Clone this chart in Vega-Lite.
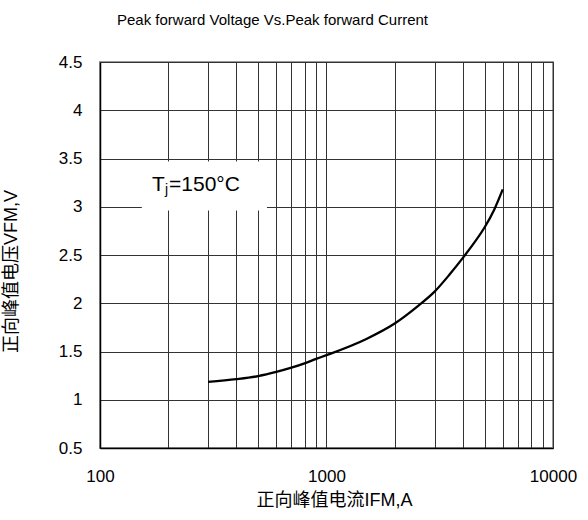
{
  "$schema": "https://vega.github.io/schema/vega-lite/v6.json",
  "width": 453,
  "height": 386,
  "autosize": {"type": "none"},
  "padding": {"left": 100, "top": 62, "right": 35, "bottom": 72},
  "background": "white",
  "title": {
    "text": "Peak forward Voltage Vs.Peak forward Current",
    "font": "Liberation Sans Narrow, Liberation Sans",
    "fontSize": 15,
    "fontWeight": "normal",
    "color": "black",
    "anchor": "start",
    "frame": "group",
    "dx": 17,
    "offset": 13,
    "baseline": "alphabetic"
  },
  "config": {
    "view": {"stroke": "#999999", "strokeWidth": 2},
    "axis": {
      "grid": true,
      "gridColor": "#333333",
      "gridWidth": 1,
      "ticks": false,
      "tickSize": 0,
      "domainColor": "black",
      "domainWidth": 1.5,
      "labelFont": "Liberation Sans",
      "labelFontSize": 17,
      "labelColor": "black",
      "labelOverlap": false,
      "labelFlush": false,
      "labelBound": false,
      "titleFont": "Liberation Sans, Noto Sans CJK SC",
      "titleFontSize": 18,
      "titleFontWeight": "normal",
      "titleColor": "black"
    }
  },
  "datasets": {
    "curve": [
      {"I": 300, "V": 1.185},
      {"I": 400, "V": 1.213},
      {"I": 500, "V": 1.245},
      {"I": 600, "V": 1.288},
      {"I": 700, "V": 1.332},
      {"I": 800, "V": 1.377},
      {"I": 900, "V": 1.423},
      {"I": 1000, "V": 1.462},
      {"I": 1500, "V": 1.63},
      {"I": 2000, "V": 1.79},
      {"I": 2500, "V": 1.96},
      {"I": 3000, "V": 2.12},
      {"I": 3500, "V": 2.3},
      {"I": 4000, "V": 2.47},
      {"I": 4500, "V": 2.63},
      {"I": 5000, "V": 2.79},
      {"I": 5500, "V": 2.97},
      {"I": 6000, "V": 3.18}
    ],
    "note": [{"I": 169.7, "V": 3.166}],
    "box": [{"I1": 153, "I2": 546, "V1": 2.96, "V2": 3.47}]
  },
  "layer": [
    {
      "data": {"name": "box"},
      "mark": {"type": "rect", "fill": "white"},
      "encoding": {
        "x": {
          "field": "I1",
          "type": "quantitative",
          "scale": {"type": "log", "domain": [100, 10000]},
          "axis": {
            "values": [100, 200, 300, 400, 500, 600, 700, 800, 900, 1000, 2000, 3000, 4000, 5000, 6000, 7000, 8000, 9000, 10000],
            "labelExpr": "(datum.value == 100 || datum.value == 1000 || datum.value == 10000) ? format(datum.value, 'd') : ''",
            "labelPadding": 20,
            "title": "正向峰值电流IFM,A",
            "titleX": 234,
            "titleY": 52,
            "titleAlign": "center",
            "titleBaseline": "middle"
          }
        },
        "x2": {"field": "I2"},
        "y": {
          "field": "V1",
          "type": "quantitative",
          "scale": {"domain": [0.5, 4.5], "nice": false, "zero": false},
          "axis": {
            "values": [0.5, 1, 1.5, 2, 2.5, 3, 3.5, 4, 4.5],
            "labelExpr": "datum.value % 1 == 0 ? format(datum.value, 'd') : format(datum.value, '.1f')",
            "labelPadding": 18,
            "title": "正向峰值电压VFM,V",
            "titleX": -89,
            "titleY": 209,
            "titleAlign": "center",
            "titleBaseline": "middle"
          }
        },
        "y2": {"field": "V2"}
      }
    },
    {
      "data": {"name": "curve"},
      "mark": {"type": "line", "color": "black", "strokeWidth": 2.3, "interpolate": "monotone"},
      "encoding": {
        "x": {"field": "I", "type": "quantitative"},
        "y": {"field": "V", "type": "quantitative"}
      }
    },
    {
      "data": {"name": "note"},
      "mark": {"type": "text", "text": "T", "align": "left", "baseline": "alphabetic", "font": "Liberation Sans", "fontSize": 21, "color": "black"},
      "encoding": {
        "x": {"field": "I", "type": "quantitative"},
        "y": {"field": "V", "type": "quantitative"}
      }
    },
    {
      "data": {"name": "note"},
      "mark": {"type": "text", "text": "j", "align": "left", "baseline": "alphabetic", "font": "Liberation Sans", "fontSize": 14, "dx": 13, "dy": 3, "color": "black"},
      "encoding": {
        "x": {"field": "I", "type": "quantitative"},
        "y": {"field": "V", "type": "quantitative"}
      }
    },
    {
      "data": {"name": "note"},
      "mark": {"type": "text", "text": "=150°C", "align": "left", "baseline": "alphabetic", "font": "Liberation Sans", "fontSize": 21, "dx": 17, "color": "black"},
      "encoding": {
        "x": {"field": "I", "type": "quantitative"},
        "y": {"field": "V", "type": "quantitative"}
      }
    }
  ]
}
